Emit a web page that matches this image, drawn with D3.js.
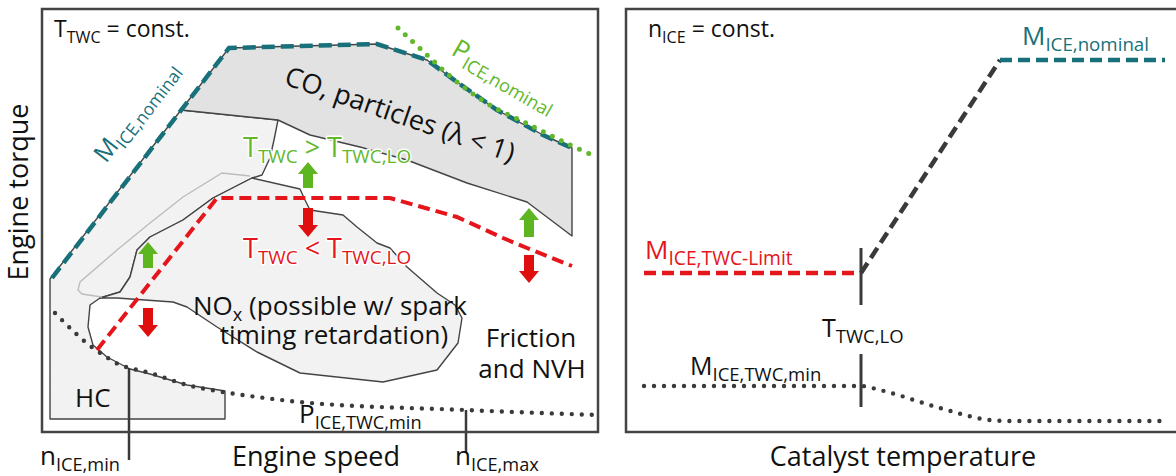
<!DOCTYPE html>
<html>
<head>
<meta charset="utf-8">
<script src="https://cdn.jsdelivr.net/npm/d3@7"></script>
<style>
  body { margin: 0; background: #fff; }
  text { font-family: "Open Sans", sans-serif; }
</style>
</head>
<body>
<div id="chart"></div>
<script>
// ---- data (schematic, arbitrary units) ----
// left panel: x = engine speed, y = engine torque
const nominalTorque = [[10,154],[187,384],[335,388],[385,372],[415,350],[455,322],[501,297],[530,284]];
const nominalPower  = [[356,404],[385,377],[415,350],[448,327],[488,307],[528,287],[550,277]];
const minPower      = [[13,119],[51,84],[66,74],[78,67],[88,64],[108,59],[145,47],[181,40],[208,36],[258,30],[423,22],[555,17]];
const twcLimit      = [[55,82],[175,234],[348,234],[415,215],[461,194],[485,184],[530,166]];

const coRegion  = [[139,322],[187,384],[335,388],[385,372],[415,350],[455,322],[501,297],[530,284],
                   [530,196],[485,230],[425,249],[365,272],[318,285],[268,297],[236,312]];
const hcRegion  = [[8,13],[8,153],[139,322],[236,312],[232,292],[228,274],[220,257],[210,254],[171,234],
                   [141,212],[108,195],[95,182],[88,155],[78,140],[58,134],[48,127],[46,105],[51,87],
                   [65,75],[88,63],[108,58],[145,47],[183,41],[183,13]];
const noxRegion = [[210,254],[258,243],[263,232],[268,222],[301,217],[315,205],[335,189],[348,184],[365,165],
                   [395,139],[413,127],[420,114],[416,89],[395,62],[341,50],[258,59],[215,80],[175,105],
                   [145,125],[131,130],[75,134],[58,134],[78,140],[88,155],[95,182],[108,195],[141,212],[171,234]];
const coldEdge  = [[208,256],[180,259],[141,235],[108,209],[75,182],[38,150],[36,142],[40,138],[60,135]];

// arrows: x, base, tip
const upArrows   = [[266,244,270],[106,164,190],[487,195,224]];
const downArrows = [[266,224,195],[106,124,95],[487,177,149]];

const speedMarks = [{name: 'min', x: 87, top: 64, bottom: -28}, {name: 'max', x: 424, top: 22, bottom: -21}];

// right panel: x = catalyst temperature, y = engine torque
const tLo          = 235;
const tLoTicks     = [[184,127],[78,25]];
const limitTorque  = [[18,159],[235,159]];
const rampTorque   = [[235,159],[374,372]];
const nomTorqueR   = [[374,372],[539,372]];
const minTorqueR   = [[18,46],[235,46],[254,42],[314,24],[364,12],[384,11],[539,11]];

// ---- drawing ----
const W = 1176, H = 476;
const teal = '#17707a', green = '#62b82a', red = '#e4161b', dark = '#3a3a3a';

const svg = d3.select('#chart').append('svg').attr('width', W).attr('height', H);

const xL = d3.scaleLinear().domain([0, 556]).range([42, 598]);
const yL = d3.scaleLinear().domain([0, 423]).range([432, 9]);
const xR = d3.scaleLinear().domain([0, 556]).range([626, 1182]);
const yR = yL;

const lineL = d3.line().x(d => xL(d[0])).y(d => yL(d[1]));
const lineR = d3.line().x(d => xR(d[0])).y(d => yR(d[1]));

function label(g, px, py, parts, size, color, opt = {}) {
  const subSize = opt.sub || 0.7;
  const t = g.append('text')
    .attr('x', px).attr('y', py)
    .attr('font-size', size)
    .attr('fill', color)
    .attr('text-anchor', opt.anchor || 'start');
  if (opt.rotate) t.attr('transform', `rotate(${opt.rotate},${px},${py})`);
  if (opt.halo) t.attr('stroke', '#fff').attr('stroke-width', 3).attr('paint-order', 'stroke').attr('stroke-linejoin', 'round');
  let shifted = false;
  parts.forEach(p => {
    const sub = typeof p !== 'string';
    const s = t.append('tspan').text(sub ? p[0] : p);
    if (sub) {
      s.attr('font-size', size * subSize);
      if (!shifted) { s.attr('dy', size * 0.24); shifted = true; }
    } else if (shifted) {
      s.attr('dy', -size * 0.24); shifted = false;
    }
  });
  return t;
}

function arrow(g, d, colour) {
  const x = xL(d[0]), b = yL(d[1]), t = yL(d[2]);
  const dir = t < b ? 1 : -1, head = 12;
  const h = t + dir * head;
  g.append('path')
    .attr('d', `M${x-5},${b} L${x-5},${h} L${x-10},${h} L${x},${t} L${x+10},${h} L${x+5},${h} L${x+5},${b} Z`)
    .attr('fill', colour);
}

// frames
svg.append('rect').attr('x', xL(0)).attr('y', yL(423)).attr('width', xL(556) - xL(0)).attr('height', yL(0) - yL(423))
   .attr('fill', '#fff');
svg.append('rect').attr('x', xR(0)).attr('y', yR(423)).attr('width', xR(556) - xR(0)).attr('height', yR(0) - yR(423))
   .attr('fill', '#fff');

const gL = svg.append('g');

// regions
gL.append('path').datum(hcRegion).attr('d', d => lineL(d) + 'Z')
  .attr('fill', '#f2f2f2').attr('stroke', '#444').attr('stroke-width', 1.4).attr('stroke-linejoin', 'round');
gL.append('path').datum(noxRegion).attr('d', d => lineL(d) + 'Z')
  .attr('fill', '#f2f2f2').attr('stroke', '#444').attr('stroke-width', 1.4).attr('stroke-linejoin', 'round');
gL.append('path').datum(coRegion).attr('d', d => lineL(d) + 'Z')
  .attr('fill', '#e2e2e2').attr('stroke', '#444').attr('stroke-width', 1.4).attr('stroke-linejoin', 'round');
gL.append('path').datum(coldEdge).attr('d', lineL)
  .attr('fill', 'none').attr('stroke', '#bdbdbd').attr('stroke-width', 1.4);

// lines
gL.append('path').datum(twcLimit).attr('d', lineL)
  .attr('fill', 'none').attr('stroke', red).attr('stroke-width', 4).attr('stroke-dasharray', '12 6');
gL.append('path').datum(nominalTorque).attr('d', lineL)
  .attr('fill', 'none').attr('stroke', teal).attr('stroke-width', 4.5).attr('stroke-dasharray', '13 6');
gL.append('path').datum(nominalPower).attr('d', lineL.curve(d3.curveCatmullRom))
  .attr('fill', 'none').attr('stroke', green).attr('stroke-width', 5)
  .attr('stroke-linecap', 'round').attr('stroke-dasharray', '0 10');
gL.append('path').datum(minPower).attr('d', lineL.curve(d3.curveMonotoneX))
  .attr('fill', 'none').attr('stroke', dark).attr('stroke-width', 4.4)
  .attr('stroke-linecap', 'round').attr('stroke-dasharray', '0 10');

upArrows.forEach(d => arrow(gL, d, '#5db51f'));
downArrows.forEach(d => arrow(gL, d, '#e00f0f'));

gL.selectAll('line.mark').data(speedMarks).enter().append('line')
  .attr('class', 'mark')
  .attr('x1', d => xL(d.x)).attr('x2', d => xL(d.x))
  .attr('y1', d => yL(d.top)).attr('y2', d => yL(d.bottom))
  .attr('stroke', dark).attr('stroke-width', 2.5);

// left texts
label(gL, xL(12), yL(395), ['T', ['TWC'], ' = const.'], 23, '#111');
label(gL, xL(64), yL(268), ['M', ['ICE,nominal']], 25, teal, {rotate: -52.4});
label(gL, xL(241), yL(348), ['CO, particles (λ < 1)'], 27, '#111', {rotate: 19});
label(gL, xL(408), yL(378), ['P', ['ICE,nominal']], 26, green, {rotate: 30});
label(gL, xL(201), yL(275), ['T', ['TWC'], ' > T', ['TWC,LO']], 27, green, {halo: true});
label(gL, xL(201), yL(174), ['T', ['TWC'], ' < T', ['TWC,LO']], 27, red, {halo: true});
label(gL, xL(288), yL(117), ['NO', ['x'], ' (possible w/ spark'], 26, '#111', {anchor: 'middle'});
label(gL, xL(292), yL(88), ['timing retardation)'], 26, '#111', {anchor: 'middle'});
label(gL, xL(489), yL(85), ['Friction'], 26, '#111', {anchor: 'middle'});
label(gL, xL(490), yL(54), ['and NVH'], 26, '#111', {anchor: 'middle'});
label(gL, xL(33), yL(25), ['HC'], 26, '#111');
label(gL, xL(257), yL(9), ['P', ['ICE,TWC,min']], 26, '#111');
label(gL, xL(-2), yL(-33), ['n', ['ICE,min']], 26, '#111');
label(gL, xL(274), yL(-34), ['Engine speed'], 27, '#111', {anchor: 'middle'});
label(gL, xL(413), yL(-33), ['n', ['ICE,max']], 26, '#111');
label(svg, 28, 192, ['Engine torque'], 27, '#111', {anchor: 'middle', rotate: -90});

// right panel
const gR = svg.append('g');
gR.append('path').datum(limitTorque).attr('d', lineR)
  .attr('fill', 'none').attr('stroke', red).attr('stroke-width', 4.5).attr('stroke-dasharray', '12 6');
gR.append('path').datum(rampTorque).attr('d', lineR)
  .attr('fill', 'none').attr('stroke', dark).attr('stroke-width', 4.5).attr('stroke-dasharray', '12 6');
gR.append('path').datum(nomTorqueR).attr('d', lineR)
  .attr('fill', 'none').attr('stroke', teal).attr('stroke-width', 4.5).attr('stroke-dasharray', '12 6');
gR.append('path').datum(minTorqueR).attr('d', lineR.curve(d3.curveMonotoneX))
  .attr('fill', 'none').attr('stroke', dark).attr('stroke-width', 4.4)
  .attr('stroke-linecap', 'round').attr('stroke-dasharray', '0 10');
gR.selectAll('line.tlo').data(tLoTicks).enter().append('line')
  .attr('class', 'tlo')
  .attr('x1', xR(tLo)).attr('x2', xR(tLo))
  .attr('y1', d => yR(d[0])).attr('y2', d => yR(d[1]))
  .attr('stroke', dark).attr('stroke-width', 3);

label(gR, xR(22), yR(395), ['n', ['ICE'], ' = const.'], 23, '#111');
label(gR, xR(396), yR(387), ['M', ['ICE,nominal']], 26, teal, {sub: 0.72});
label(gR, xR(19), yR(173), ['M', ['ICE,TWC-Limit']], 26, red, {sub: 0.74});
label(gR, xR(196), yR(95), ['T', ['TWC,LO']], 25, '#111', {sub: 0.74});
label(gR, xR(64), yR(57), ['M', ['ICE,TWC,min']], 25, '#111', {sub: 0.74});
label(gR, xR(277), yR(-34), ['Catalyst temperature'], 27, '#111', {anchor: 'middle'});

// frame borders on top
svg.append('rect').attr('x', xL(0)).attr('y', yL(423)).attr('width', xL(556) - xL(0)).attr('height', yL(0) - yL(423))
   .attr('fill', 'none').attr('stroke', '#444').attr('stroke-width', 2.5);
svg.append('rect').attr('x', xR(0)).attr('y', yR(423)).attr('width', xR(556) - xR(0)).attr('height', yR(0) - yR(423))
   .attr('fill', 'none').attr('stroke', '#444').attr('stroke-width', 2.5);
</script>
</body>
</html>
